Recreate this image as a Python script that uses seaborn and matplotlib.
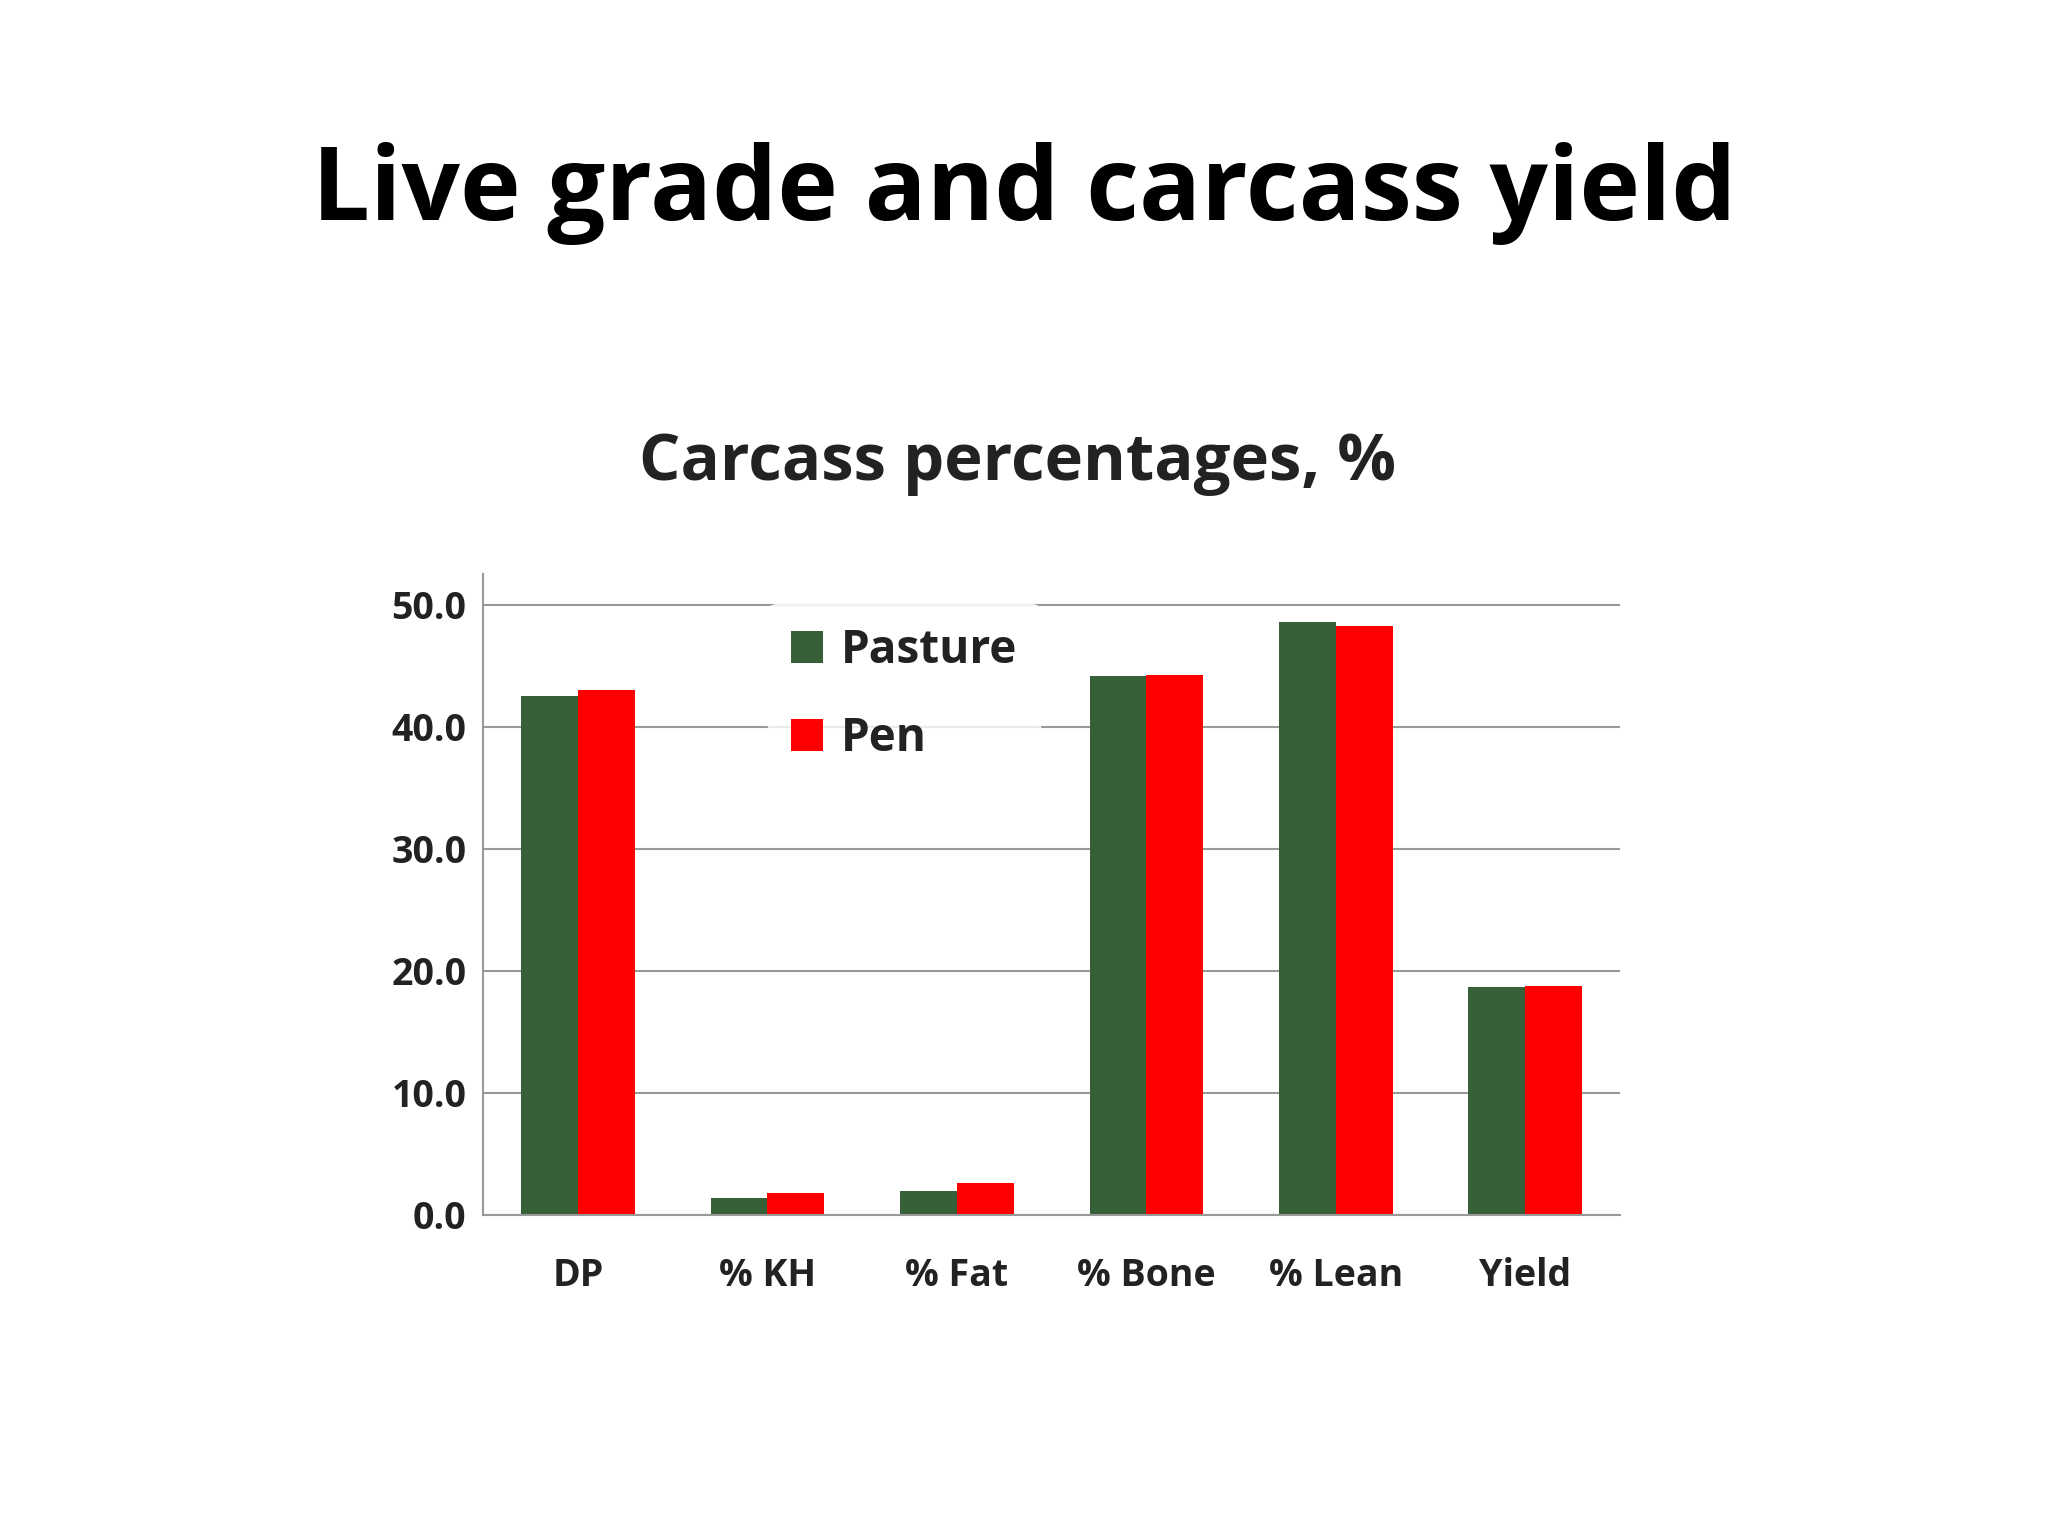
import matplotlib
matplotlib.use("Agg")
import matplotlib.pyplot as plt
import seaborn as sns
import pandas as pd

categories = ["DP", "% KH", "% Fat", "% Bone", "% Lean", "Yield"]
pasture = [42.5, 1.4, 2.0, 44.2, 48.6, 18.7]
pen = [43.0, 1.8, 2.6, 44.3, 48.3, 18.8]
series = ["Pasture", "Pen"]
colors = ["#356038", "#ff0000"]
yticks = [0, 10, 20, 30, 40, 50]

df = pd.DataFrame({
    "cat": categories * 2,
    "val": pasture + pen,
    "series": [series[0]] * 6 + [series[1]] * 6,
})

sns.set_style("white")
plt.rcParams["font.family"] = ["Open Sans", "DejaVu Sans"]

fig = plt.figure(figsize=(20.48, 15.36), dpi=100)
ax = fig.add_axes([0.236, 0.209, 0.555, 0.417])
sns.barplot(data=df, x="cat", y="val", hue="series", palette=colors,
            width=0.6, ax=ax, saturation=1, edgecolor="none")
ax.set_ylim(0, 52.5)
ax.set_yticks(yticks)
ax.set_yticklabels([f"{v:.1f}" for v in yticks], fontsize=27, fontweight="bold", color="#222222")
ax.tick_params(axis="y", length=0, pad=12)
ax.tick_params(axis="x", labelsize=27, colors="#222222", length=0, pad=30)
for t in ax.get_xticklabels():
    t.set_fontweight("bold")
ax.set_xlabel("")
ax.set_ylabel("")
ax.yaxis.grid(True, color="#999999", linewidth=1.5)
ax.set_axisbelow(True)
for s in ["top", "right"]:
    ax.spines[s].set_visible(False)
ax.spines["left"].set_color("#999999")
ax.spines["bottom"].set_color("#999999")
ax.spines["left"].set_linewidth(1.5)
ax.spines["bottom"].set_linewidth(1.5)

leg = ax.legend(loc="upper left", bbox_to_anchor=(0.23, 0.99), frameon=True,
                fontsize=33, handlelength=0.7, handleheight=0.7, handletextpad=0.4,
                labelspacing=0.9, borderpad=0.5)
leg.get_frame().set_facecolor("white")
leg.get_frame().set_edgecolor("white")
for t in leg.get_texts():
    t.set_fontweight("bold")
    t.set_color("#222222")

fig.text(0.5, 0.874, "Live grade and carcass yield", ha="center", va="center",
         fontsize=74, fontweight="bold", color="black")
fig.text(0.497, 0.698, "Carcass percentages, %", ha="center", va="center",
         fontsize=47, fontweight="bold", color="#222222")

fig.savefig("out.png", dpi=100, facecolor="white")
